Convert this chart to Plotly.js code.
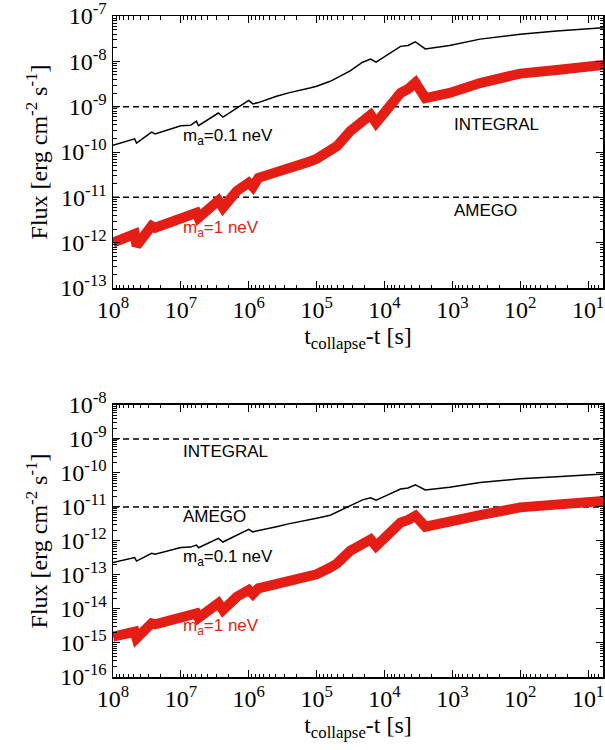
<!DOCTYPE html>
<html>
<head>
<meta charset="utf-8">
<script src="https://cdn.plot.ly/plotly-3.0.1.min.js"></script>
<style>html,body{margin:0;padding:0;background:#fff;}#chart{width:605px;height:750px;}</style>
</head>
<body>
<div id="chart"></div>
<script>
// time before collapse [s]
const tSec = [1e8, 4.8e7, 4.5e7, 2.7e7, 2.4e7, 1e7, 7.2e6, 5.9e6, 5.5e6, 2.8e6, 2.4e6, 1.5e6, 1e6, 8.7e5, 7.2e5, 3.9e5, 2.5e5, 1.26e5, 1e5, 6.3e4, 5.0e4, 3.2e4, 2.1e4, 1.6e4, 1.33e4, 9.8e3, 5.8e3, 4.5e3, 3.5e3, 2.5e3, 1.1e3, 390, 100, 29, 6];

// top panel fluxes [erg cm^-2 s^-1]
const topFlux01neV = [1.41e-10, 1.95e-10, 1.58e-10, 2.75e-10, 2.51e-10, 3.80e-10, 3.89e-10, 4.79e-10, 3.80e-10, 7.24e-10, 5.89e-10, 9.12e-10, 1.38e-9, 1.15e-9, 1.23e-9, 1.70e-9, 2.04e-9, 2.57e-9, 2.82e-9, 3.63e-9, 4.37e-9, 6.17e-9, 9.55e-9, 1.12e-8, 9.55e-9, 1.29e-8, 2.14e-8, 2.24e-8, 2.69e-8, 1.88e-8, 2.24e-8, 3.09e-8, 3.98e-8, 4.68e-8, 5.50e-8];
const topFlux1neV = [1.00e-12, 1.55e-12, 8.51e-13, 2.34e-12, 2.14e-12, 3.55e-12, 3.98e-12, 4.57e-12, 3.55e-12, 8.51e-12, 5.89e-12, 1.38e-11, 2.09e-11, 1.70e-11, 2.69e-11, 3.47e-11, 4.47e-11, 6.17e-11, 7.08e-11, 1.05e-10, 1.35e-10, 2.88e-10, 4.90e-10, 6.61e-10, 4.37e-10, 7.24e-10, 2.00e-9, 2.45e-9, 3.39e-9, 1.55e-9, 2.00e-9, 3.31e-9, 5.37e-9, 6.46e-9, 8.32e-9];

// bottom panel fluxes
const botFlux01neV = [2.34e-13, 3.24e-13, 2.57e-13, 4.37e-13, 4.07e-13, 6.46e-13, 6.61e-13, 7.59e-13, 6.31e-13, 1.20e-12, 9.33e-13, 1.51e-12, 2.19e-12, 1.86e-12, 2.00e-12, 2.63e-12, 3.24e-12, 4.17e-12, 4.68e-12, 5.75e-12, 7.08e-12, 1.07e-11, 1.62e-11, 1.86e-11, 1.58e-11, 2.09e-11, 3.39e-11, 3.63e-11, 4.47e-11, 3.16e-11, 3.80e-11, 5.25e-11, 6.76e-11, 7.76e-11, 9.33e-11];
const botFlux1neV = [1.55e-15, 2.14e-15, 1.38e-15, 3.80e-15, 3.55e-15, 5.50e-15, 6.31e-15, 7.41e-15, 5.50e-15, 1.48e-14, 9.33e-15, 2.29e-14, 3.63e-14, 2.75e-14, 4.07e-14, 5.25e-14, 6.31e-14, 9.12e-14, 1.05e-13, 1.66e-13, 2.19e-13, 5.13e-13, 8.91e-13, 1.12e-12, 7.08e-13, 1.35e-12, 3.47e-12, 4.17e-12, 5.50e-12, 2.63e-12, 3.47e-12, 5.75e-12, 9.77e-12, 1.20e-11, 1.51e-11];

// instrument sensitivities
const sensNames = ["INTEGRAL", "AMEGO"];
const sensFlux = [1e-9, 1e-11];
const sensT = [1e8, 6];

// tick labels
const xTickVals = [1e8, 1e7, 1e6, 1e5, 1e4, 1e3, 1e2, 1e1];
const xTickText = ["10<sup>8</sup>", "10<sup>7</sup>", "10<sup>6</sup>", "10<sup>5</sup>", "10<sup>4</sup>", "10<sup>3</sup>", "10<sup>2</sup>", "10<sup>1</sup>"];
const yTopVals = [1e-7, 1e-8, 1e-9, 1e-10, 1e-11, 1e-12, 1e-13];
const yTopText = ["10<sup>-7</sup>", "10<sup>-8</sup>", "10<sup>-9</sup>", "10<sup>-10</sup>", "10<sup>-11</sup>", "10<sup>-12</sup>", "10<sup>-13</sup>"];
const yBotVals = [1e-8, 1e-9, 1e-10, 1e-11, 1e-12, 1e-13, 1e-14, 1e-15, 1e-16];
const yBotText = ["10<sup>-8</sup>", "10<sup>-9</sup>", "10<sup>-10</sup>", "10<sup>-11</sup>", "10<sup>-12</sup>", "10<sup>-13</sup>", "10<sup>-14</sup>", "10<sup>-15</sup>", "10<sup>-16</sup>"];

const RED = '#e41e14';
const SERIF = '"Liberation Serif", "Times New Roman", serif';
const SANS = '"Liberation Sans", Arial, sans-serif';

// log minor tick positions (2..9 within each decade)
function minorVals(lo, hi) {
  const v = [];
  for (let d = lo; d < hi; d++) for (let m = 2; m <= 9; m++) v.push(m * Math.pow(10, d));
  return v;
}

function panelTraces(xa, ya, black, red) {
  const tr = [];
  sensFlux.forEach((f, i) => {
    tr.push({x: sensT, y: [f, f], xaxis: xa, yaxis: ya, mode: 'lines', name: sensNames[i],
      line: {color: 'black', width: 1.5, dash: '6px,4px'}, hoverinfo: 'skip'});
  });
  tr.push({x: tSec, y: black, xaxis: xa, yaxis: ya, mode: 'lines', name: 'ma=0.1 neV',
    line: {color: 'black', width: 1.5}});
  tr.push({x: tSec, y: red, xaxis: xa, yaxis: ya, mode: 'lines', name: 'ma=1 neV',
    line: {color: RED, width: 10}});
  return tr;
}

const data = [].concat(
  panelTraces('x', 'y', topFlux01neV, topFlux1neV),
  panelTraces('x2', 'y2', botFlux01neV, botFlux1neV)
);

function xAxis(anchor) {
  return {
    type: 'log', range: [8.0001, 0.78], anchor: anchor,
    tickmode: 'array', tickvals: xTickVals, ticktext: xTickText,
    ticks: 'inside', ticklen: 7, tickwidth: 1, tickcolor: 'black',
    minor: {tickmode: 'array', tickvals: minorVals(0, 8), ticks: 'inside', ticklen: 3.5, tickwidth: 1, tickcolor: 'black', showgrid: false},
    showline: true, linecolor: 'black', linewidth: 1.5, mirror: 'ticks',
    showgrid: false, zeroline: false, ticklabeloverflow: 'allow',
    tickfont: {family: SERIF, size: 24, color: 'black'},
    title: {text: 't<sub>collapse</sub>-t [s]', font: {family: SERIF, size: 24, color: 'black'}, standoff: 4},
    automargin: false
  };
}
function yAxis(anchor, domain, rng, vals, text) {
  return {
    type: 'log', range: [rng[0] - 0.0001, rng[1] + 0.0001], domain: domain, anchor: anchor,
    tickmode: 'array', tickvals: vals, ticktext: text,
    ticks: 'inside', ticklen: 7, tickwidth: 1, tickcolor: 'black',
    minor: {tickmode: 'array', tickvals: minorVals(rng[0], rng[1]), ticks: 'inside', ticklen: 3.5, tickwidth: 1, tickcolor: 'black', showgrid: false},
    showline: true, linecolor: 'black', linewidth: 1.5, mirror: 'ticks',
    showgrid: false, zeroline: false, ticklabeloverflow: 'allow',
    tickfont: {family: SERIF, size: 24, color: 'black'},
    title: {text: 'Flux [erg cm<sup>-2</sup> s<sup>-1</sup>]', font: {family: SERIF, size: 24, color: 'black'}, standoff: 6},
    automargin: false
  };
}

function ann(xref, yref, xlog, ylog, text, color) {
  return {xref: xref, yref: yref, x: xlog, y: ylog, text: text, showarrow: false,
    xanchor: 'left', yanchor: 'middle', font: {family: SANS, size: 17, color: color}};
}

const layout = {
  width: 605, height: 750,
  margin: {l: 113, r: 2, t: 16, b: 73},
  paper_bgcolor: 'white', plot_bgcolor: 'white',
  showlegend: false,
  xaxis: xAxis('y'),
  yaxis: yAxis('x', [0.5885, 1], [-13, -7], yTopVals, yTopText),
  xaxis2: xAxis('y2'),
  yaxis2: yAxis('x2', [0, 0.4115], [-16, -8], yBotVals, yBotText),
  annotations: [
    ann('x', 'y', 7.0, -9.68, 'm<sub>a</sub>=0.1 neV', 'black'),
    ann('x', 'y', 7.0, -11.70, 'm<sub>a</sub>=1 neV', RED),
    ann('x', 'y', 3.01, -9.40, 'INTEGRAL', 'black'),
    ann('x', 'y', 3.01, -11.30, 'AMEGO', 'black'),
    ann('x2', 'y2', 7.0, -12.50, 'm<sub>a</sub>=0.1 neV', 'black'),
    ann('x2', 'y2', 7.0, -14.53, 'm<sub>a</sub>=1 neV', RED),
    ann('x2', 'y2', 7.0, -9.37, 'INTEGRAL', 'black'),
    ann('x2', 'y2', 7.0, -11.29, 'AMEGO', 'black')
  ]
};

Plotly.newPlot('chart', data, layout, {staticPlot: true, displayModeBar: false});
</script>
</body>
</html>
